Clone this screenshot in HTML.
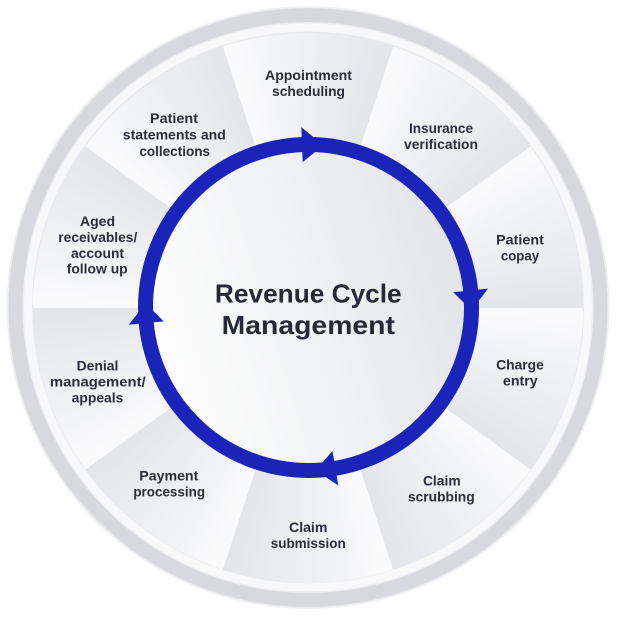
<!DOCTYPE html>
<html>
<head>
<meta charset="utf-8">
<style>
  html,body{margin:0;padding:0;background:#fff;}
  body{width:618px;height:618px;position:relative;overflow:hidden;}
  .layer{position:absolute;left:0;top:0;}
  #wedges{
    position:absolute;left:33px;top:32.5px;width:550px;height:550px;border-radius:50%;
    background:repeating-conic-gradient(from -18deg at 50% 50%, #fbfbfc 0deg, #f1f2f4 14deg, #e3e6e9 36deg);
  }
  text{font-family:"Liberation Sans",Arial,sans-serif;font-weight:bold;}
</style>
</head>
<body>
<svg class="layer" width="618" height="618" viewBox="0 0 618 618">
  <circle cx="308" cy="307.5" r="301.5" fill="#efeff1"/>
  <circle cx="308" cy="307.5" r="299.5" fill="#d8d9de"/>
  <circle cx="308" cy="307.5" r="285.5" fill="#eeeef0"/>
  <circle cx="308" cy="307.5" r="284" fill="#f8f8f9"/>
  <circle cx="308" cy="307.5" r="276" fill="#e9eaec"/>
</svg>
<div id="wedges"></div>
<svg class="layer" width="618" height="618" viewBox="0 0 618 618">
  <defs>
    <linearGradient id="inner" x1="0" y1="0.65" x2="1" y2="0.35">
      <stop offset="0" stop-color="#fefefe"/>
      <stop offset="0.45" stop-color="#f3f4f5"/>
      <stop offset="1" stop-color="#e0e3e7"/>
    </linearGradient>
  </defs>
  <circle cx="308.5" cy="307.5" r="171" fill="url(#inner)"/>
  <circle cx="308.5" cy="307.5" r="163" fill="none" stroke="#1b24b8" stroke-width="15"/>
  <g fill="#1b24b8">
    <polygon points="301.3,127.1 302.7,162.1 323.3,145.2"/>
    <polygon points="488.0,288.6 453.2,292.3 471.5,310.3"/>
    <polygon points="338.3,485.5 332.5,451.0 315.6,470.3"/>
    <polygon points="128.8,324.8 163.7,321.4 145.6,303.2"/>
  </g>

  <g fill="#262938" text-anchor="middle">
    <text x="308.3" y="302.7" font-size="26" textLength="186.7" lengthAdjust="spacingAndGlyphs">Revenue Cycle</text>
    <text x="308.3" y="334" font-size="26" textLength="173.3" lengthAdjust="spacingAndGlyphs">Management</text>
  </g>

  <g fill="#2a2d3b" text-anchor="middle" font-size="14">
    <text x="308.5" y="80" textLength="87" lengthAdjust="spacingAndGlyphs">Appointment</text>
    <text x="308.5" y="96" textLength="73" lengthAdjust="spacingAndGlyphs">scheduling</text>

    <text x="441" y="133" textLength="64" lengthAdjust="spacingAndGlyphs">Insurance</text>
    <text x="441" y="149" textLength="74" lengthAdjust="spacingAndGlyphs">verification</text>

    <text x="520" y="244.5" textLength="47.7" lengthAdjust="spacingAndGlyphs">Patient</text>
    <text x="520" y="260.5" textLength="38.3" lengthAdjust="spacingAndGlyphs">copay</text>

    <text x="520" y="369.5" textLength="47.7" lengthAdjust="spacingAndGlyphs">Charge</text>
    <text x="520.3" y="385.5" textLength="34.7" lengthAdjust="spacingAndGlyphs">entry</text>

    <text x="441.8" y="485.5" textLength="37.7" lengthAdjust="spacingAndGlyphs">Claim</text>
    <text x="441.3" y="501.5" textLength="66.7" lengthAdjust="spacingAndGlyphs">scrubbing</text>

    <text x="308.2" y="532" textLength="38.3" lengthAdjust="spacingAndGlyphs">Claim</text>
    <text x="308.2" y="548" textLength="75" lengthAdjust="spacingAndGlyphs">submission</text>

    <text x="168.8" y="480.5" textLength="59" lengthAdjust="spacingAndGlyphs">Payment</text>
    <text x="169.2" y="496.5" textLength="71.7" lengthAdjust="spacingAndGlyphs">processing</text>

    <text x="97.5" y="370.5" textLength="41.7" lengthAdjust="spacingAndGlyphs">Denial</text>
    <text x="97.8" y="386.5" textLength="95.7" lengthAdjust="spacingAndGlyphs">management/</text>
    <text x="97.5" y="402.5" textLength="51.7" lengthAdjust="spacingAndGlyphs">appeals</text>

    <text x="97.5" y="226" textLength="35" lengthAdjust="spacingAndGlyphs">Aged</text>
    <text x="97.8" y="242" textLength="79" lengthAdjust="spacingAndGlyphs">receivables/</text>
    <text x="97.5" y="258" textLength="53" lengthAdjust="spacingAndGlyphs">account</text>
    <text x="97.2" y="273.5" textLength="61" lengthAdjust="spacingAndGlyphs">follow up</text>

    <text x="174" y="123" textLength="48" lengthAdjust="spacingAndGlyphs">Patient</text>
    <text x="174.3" y="139.5" textLength="103" lengthAdjust="spacingAndGlyphs">statements and</text>
    <text x="174.7" y="156" textLength="70.7" lengthAdjust="spacingAndGlyphs">collections</text>
  </g>
</svg>
</body>
</html>
